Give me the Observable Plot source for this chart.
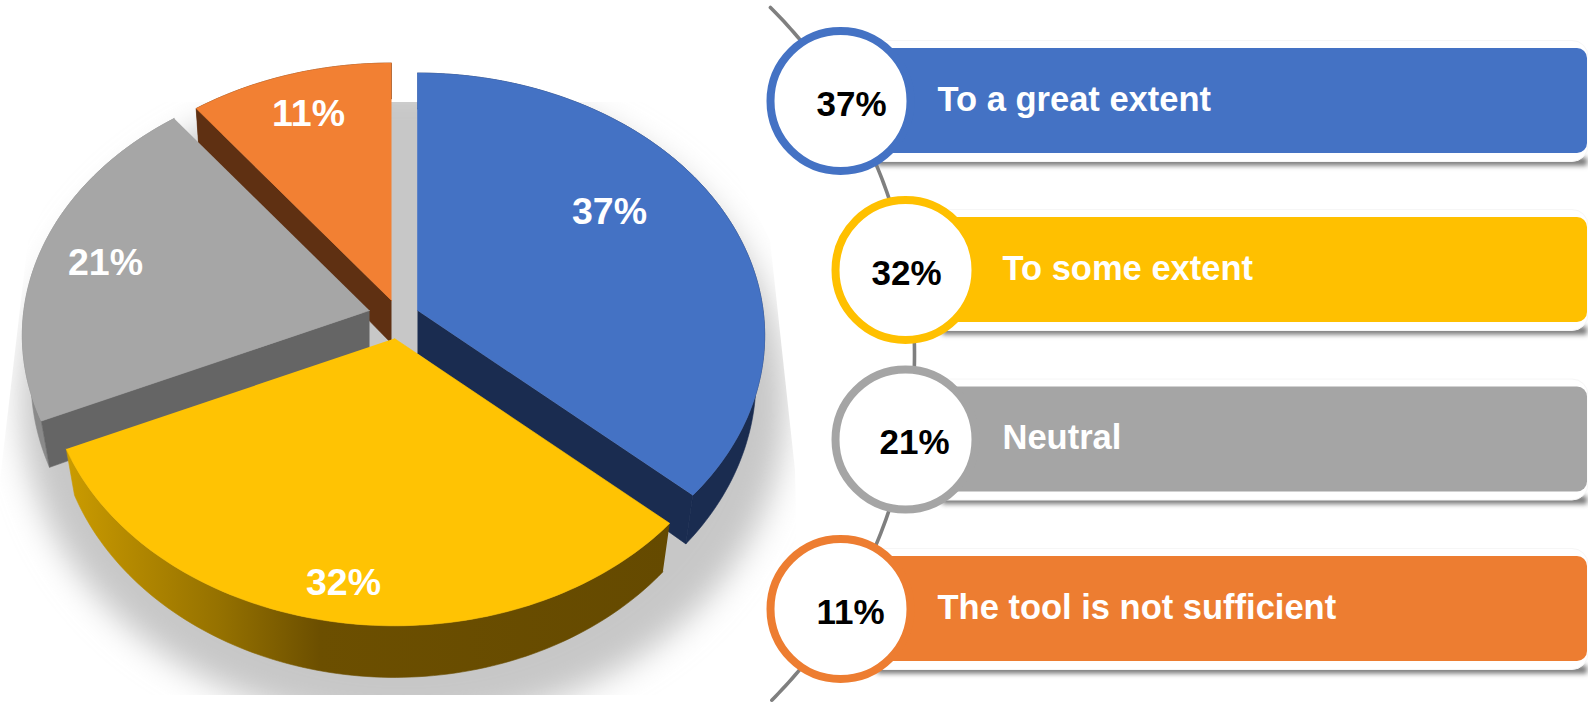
<!DOCTYPE html>
<html>
<head>
<meta charset="utf-8">
<script src="https://cdn.jsdelivr.net/npm/d3@7"></script>
<script src="https://cdn.jsdelivr.net/npm/@observablehq/plot@0.6"></script>
<style>
html,body{margin:0;padding:0;background:#fff;overflow:hidden}
svg{display:block}
</style>
</head>
<body>
<div id="chart"></div>
<script>
// ---- data ----
const categories = ["To a great extent", "To some extent", "Neutral", "The tool is not sufficient"];
const labels = ["37%", "32%", "21%", "11%"];
const shares = [36.6, 31.7, 21.3, 10.4];           // slice sizes as drawn
const faceColors = ["#4472c4", "#ffc303", "#a6a6a6", "#f28033"];
const barColors = ["#4472c4", "#ffc000", "#a5a5a5", "#ed7d31"];
const radialWallColors = ["#1a2c50", null, "#656565", "#5f3012"];
const outerWallColors = ["#1a2c50", "url(#goldWall)", "#8a8a8a", "#5f3012"];
const visibleWallEnd = ["a1", null, "a0", "a0"];
const shadowColor = "#c7c7c7";

// ---- layout ----
const W = 1588, H = 702;
const apex = [417, 310], A = 345.6, B = 260, k = 0.095;   // perspective of the disc
const explode = [[0, 0], [-23, 28], [-48, 0], [-26, -10]];
const depth = 43, lowerX = 0.975, lowerY = 1.03;
const pieLabelAt = [[609, 211], [343, 582], [105, 262], [308, 113]];
const rowY = [100.5, 269.5, 439, 608.5];
const rowX = [840, 905, 905, 840];
const rowNumberX = [851, 906, 914, 850];
const barHalf = 52, barRight = 1587, circleR = 70;

function project(theta, off, lower) {
  const u = Math.sin(theta), v = -Math.cos(theta), w = 1 - k * v;
  const lx = lowerX + (v < 0 ? 0.015 * -v : 0);
  return lower
    ? {x: apex[0] + off[0] + lx * A * u / w, y: apex[1] + off[1] + depth + lowerY * B * v / w}
    : {x: apex[0] + off[0] + A * u / w, y: apex[1] + off[1] + B * v / w};
}
function arc(a0, a1, off, lower) {
  const n = Math.ceil((a1 - a0) / 0.02);
  return d3.range(n + 1).map(i => project(a0 + (a1 - a0) * i / n, off, lower));
}
const total = d3.sum(shares);
let acc = 0;
const slices = shares.map((s, i) => {
  const a0 = acc / total * 2 * Math.PI;
  acc += s;
  return {i, a0, a1: acc / total * 2 * Math.PI, off: explode[i]};
});

const poly = (pts, fill, extra = {}) =>
  Plot.line(pts, {x: "x", y: "y", fill, stroke: fill, strokeWidth: 0.6, curve: "linear", ...extra});

function apexPt(off, lower) {
  return {x: apex[0] + off[0], y: apex[1] + off[1] + (lower ? depth : 0)};
}
function sliceMarks(s) {
  const {a0, a1, off, i} = s;
  const top = [apexPt(off, false), ...arc(a0, a1, off, false)];
  const outer = [...arc(a0, a1, off, false), ...arc(a0, a1, off, true).reverse()];
  const wall = a => [apexPt(off, false), project(a, off, false), project(a, off, true), apexPt(off, true)];
  const marks = [poly(outer, outerWallColors[i])];
  if (visibleWallEnd[i]) marks.push(poly(wall(s[visibleWallEnd[i]]), radialWallColors[i]));
  marks.push(poly(top, faceColors[i]));
  return marks;
}
const drawOrder = [3, 2, 0, 1];

// soft shadow under the pie
const shadowPts = d3.range(0, 2 * Math.PI, 0.02).map(t => {
  const p = project(t, [0, 0], true);
  return {x: 403 + (p.x - apex[0]) * 1.13, y: 372 + (p.y - apex[1] - depth) * 1.19};
});

// connector arc behind the legend circles
const spine = d3.range(-0.787, 0.79, 0.01).map(t => ({x: 424 + 490 * Math.cos(t), y: 354 + 490 * Math.sin(t)}));

const rows = categories.map((c, i) => ({
  category: c, label: labels[i], y: rowY[i], x: rowX[i], nx: rowNumberX[i], color: barColors[i],
  tx: rowX[i] + 97
}));
const pieText = labels.map((l, i) => ({label: l, x: pieLabelAt[i][0], y: pieLabelAt[i][1]}));

const font = "'Liberation Sans', Arial, sans-serif";

const plot = Plot.plot({
  width: W, height: H,
  marginTop: 0, marginRight: 0, marginBottom: 0, marginLeft: 0,
  x: {domain: [0, W], range: [0, W], axis: null},
  y: {domain: [0, H], range: [0, H], axis: null},
  color: {type: "identity"},
  style: {background: "transparent", fontFamily: font},
  marks: [
    poly(shadowPts, shadowColor),
    ...drawOrder.flatMap(i => sliceMarks(slices[i])),
    Plot.text(pieText, {x: "x", y: "y", text: "label", fill: "#fff", fontSize: 37.5, fontWeight: 700, fontFamily: font}),

    Plot.line(spine, {x: "x", y: "y", stroke: "#7f7f7f", strokeWidth: 3.6, curve: "linear"}),

    Plot.rect(rows, {x1: d => d.x + 37, x2: barRight, y1: d => d.y + barHalf + 5, y2: d => d.y + barHalf + 13,
      fill: "#777", imageFilter: "blur(2.5px)"}),
    Plot.rect(rows, {x1: d => d.x, x2: W, y1: d => d.y - barHalf - 8, y2: d => d.y + barHalf + 9,
      fill: "#fff", stroke: "#f6f6f6", rx: 16}),
    Plot.rect(rows, {x1: "x", x2: barRight, y1: d => d.y - barHalf - 0.5, y2: d => d.y + barHalf + 0.5,
      fill: "color", rx: 10}),
    Plot.dot(rows, {x: "x", y: "y", r: circleR, fill: "#fff", stroke: "color", strokeWidth: 8}),
    Plot.text(rows, {x: "nx", y: d => d.y + 3.5, text: "label", fill: "#000", fontSize: 35, fontWeight: 700, fontFamily: font}),
    Plot.text(rows, {x: "tx", y: d => d.y - 1.5, text: "category", fill: "#fff", fontSize: 34.5, fontWeight: 700,
      fontFamily: font, textAnchor: "start"})
  ]
});

// gradient for the gold outer wall and hard-edged clip of the shadow
const svg = d3.select(plot);
const defs = svg.insert("defs", ":first-child");
const grad = defs.append("linearGradient").attr("id", "goldWall");
[[0, "#cb9c00"], [0.1, "#b58a00"], [0.25, "#967200"], [0.42, "#6c4f00"], [1, "#654a00"]].forEach(([o, c]) =>
  grad.append("stop").attr("offset", o).attr("stop-color", c));
defs.append("filter").attr("id", "shadowBlur").attr("filterUnits", "userSpaceOnUse")
  .attr("x", -60).attr("y", 0).attr("width", 920).attr("height", H + 60)
  .append("feGaussianBlur").attr("stdDeviation", 16);
defs.append("clipPath").attr("id", "shadowClip").append("polygon")
  .attr("points", "95,102 28,240 0,480 0,695 800,695 795,470 770,240 700,102");
const shadowMark = plot.querySelector(`g[fill="${shadowColor}"]`);
if (shadowMark) {
  const wrap = document.createElementNS("http://www.w3.org/2000/svg", "g");
  wrap.setAttribute("clip-path", "url(#shadowClip)");
  shadowMark.parentNode.insertBefore(wrap, shadowMark);
  wrap.appendChild(shadowMark);
  shadowMark.setAttribute("filter", "url(#shadowBlur)");
}
document.getElementById("chart").appendChild(plot);
</script>
</body>
</html>
